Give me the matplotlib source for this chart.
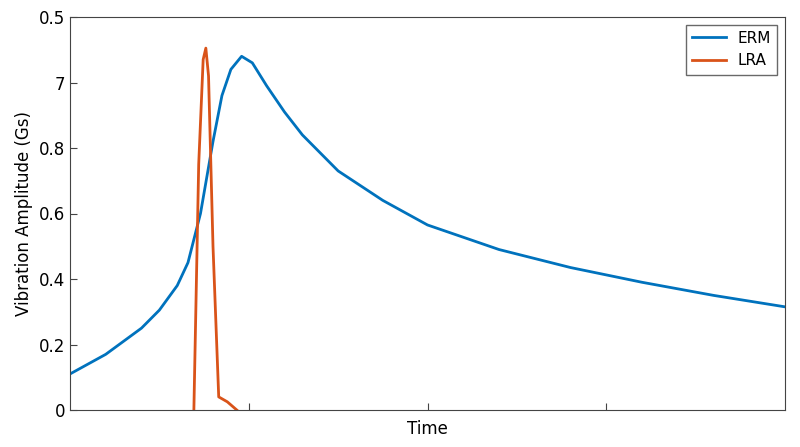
import matplotlib
matplotlib.use("Agg")
import matplotlib.pyplot as plt
import numpy as np

erm_t = [0.0, 0.2, 0.4, 0.5, 0.6, 0.66, 0.73, 0.8, 0.85, 0.9, 0.96, 1.02, 1.1, 1.2, 1.3, 1.5, 1.75, 2.0, 2.4, 2.8, 3.2, 3.6, 4.0]
erm_v = [0.11, 0.17, 0.25, 0.305, 0.38, 0.45, 0.6, 0.82, 0.96, 1.04, 1.08, 1.06, 0.99, 0.91, 0.84, 0.73, 0.64, 0.565, 0.49, 0.435, 0.39, 0.35, 0.315]
lra_t = [0.693, 0.72, 0.745, 0.76, 0.775, 0.80, 0.832, 0.88, 0.933]
lra_v = [0.0, 0.75, 1.07, 1.105, 1.02, 0.5, 0.04, 0.025, 0.0]
yticks = [0, 0.2, 0.4, 0.6, 0.8, 1.0, 1.2]
ylabels = ["0", "0.2", "0.4", "0.6", "0.8", "7", "0.5"]

fig = plt.figure(figsize=(8, 4.47), dpi=100)
ax = fig.add_axes([70/800, 37/447, 715/800, 393/447])
ax.plot(erm_t, erm_v, color="#0072BD", lw=2, label="ERM")
ax.plot(lra_t, lra_v, color="#D95319", lw=2, label="LRA")
ax.set_xlim(0, 4)
ax.set_ylim(0, 1.2)
ax.set_xticks([1, 2, 3])
ax.set_xticklabels([])
ax.set_yticks(yticks)
ax.set_yticklabels(ylabels, fontsize=12)
ax.tick_params(direction="in", length=5, color="#444444")
for s in ax.spines.values():
    s.set_color("#444444")
ax.set_xlabel("Time", fontsize=12, labelpad=4)
ax.set_ylabel("Vibration Amplitude (Gs)", fontsize=12)
ax.legend(loc="upper right", fontsize=11, fancybox=False, edgecolor="#444444", handlelength=2.2)
fig.savefig("out.png", dpi=100)
